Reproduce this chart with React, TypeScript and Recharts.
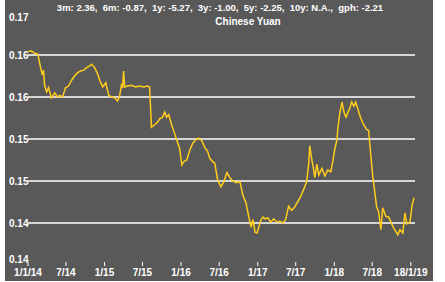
import React from 'react';
import { LineChart, Line, XAxis, YAxis, ReferenceLine } from 'recharts';

// CNY in USD
const dates = [
  '2014-01-01', '2014-01-15', '2014-02-03', '2014-02-17', '2014-03-02', '2014-03-11', '2014-03-16', '2014-03-21',
  '2014-03-31', '2014-04-09', '2014-04-23', '2014-05-08', '2014-05-22', '2014-06-01', '2014-06-15', '2014-06-29',
  '2014-07-13', '2014-07-28', '2014-08-11', '2014-08-26', '2014-09-09', '2014-09-24', '2014-10-08', '2014-10-22',
  '2014-11-01', '2014-11-15', '2014-11-30', '2014-12-09', '2014-12-23', '2015-01-07', '2015-01-21', '2015-02-05',
  '2015-02-19', '2015-03-04', '2015-03-13', '2015-03-23', '2015-03-28', '2015-04-02', '2015-04-07', '2015-04-21',
  '2015-05-10', '2015-05-29', '2015-06-17', '2015-07-06', '2015-07-25', '2015-08-04', '2015-08-09', '2015-08-13',
  '2015-08-28', '2015-09-11', '2015-09-21', '2015-10-05', '2015-10-15', '2015-10-24', '2015-11-03', '2015-11-17',
  '2015-12-01', '2015-12-11', '2015-12-25', '2016-01-05', '2016-01-14', '2016-01-28', '2016-02-12', '2016-02-26',
  '2016-03-11', '2016-03-25', '2016-04-09', '2016-04-23', '2016-05-07', '2016-05-17', '2016-06-01', '2016-06-10',
  '2016-06-24', '2016-07-09', '2016-07-23', '2016-08-07', '2016-08-21', '2016-08-31', '2016-09-19', '2016-10-08',
  '2016-10-22', '2016-11-06', '2016-11-20', '2016-11-30', '2016-12-09', '2016-12-19', '2016-12-28', '2017-01-07',
  '2017-01-17', '2017-01-26', '2017-02-05', '2017-02-19', '2017-03-04', '2017-03-18', '2017-04-02', '2017-04-16',
  '2017-04-30', '2017-05-14', '2017-05-28', '2017-06-12', '2017-06-26', '2017-07-10', '2017-07-24', '2017-08-08',
  '2017-08-22', '2017-09-01', '2017-09-06', '2017-09-16', '2017-09-25', '2017-09-30', '2017-10-10', '2017-10-19',
  '2017-11-03', '2017-11-17', '2017-12-01', '2017-12-15', '2017-12-25', '2018-01-04', '2018-01-14', '2018-01-18',
  '2018-01-28', '2018-02-07', '2018-02-16', '2018-02-26', '2018-03-06', '2018-03-16', '2018-03-25', '2018-04-04',
  '2018-04-13', '2018-04-23', '2018-05-07', '2018-05-21', '2018-06-05', '2018-06-14', '2018-06-24', '2018-07-03',
  '2018-07-13', '2018-07-22', '2018-08-01', '2018-08-11', '2018-08-20', '2018-09-04', '2018-09-18', '2018-10-02',
  '2018-10-16', '2018-10-31', '2018-11-10', '2018-11-24', '2018-12-04', '2018-12-13', '2018-12-28', '2019-01-07',
  '2019-01-16',
];

const yuan = [
  0.1654, 0.1655, 0.1652, 0.1651, 0.1635, 0.1626, 0.1632, 0.1614,
  0.1606, 0.1611, 0.1599, 0.1605, 0.1600, 0.1602, 0.1600, 0.1611,
  0.1613, 0.1620, 0.1625, 0.1629, 0.1631, 0.1632, 0.1635, 0.1637,
  0.1639, 0.1635, 0.1627, 0.1620, 0.1612, 0.1617, 0.1602, 0.1600,
  0.1599, 0.1595, 0.1600, 0.1614, 0.1611, 0.1631, 0.1612, 0.1613,
  0.1614, 0.1612, 0.1613, 0.1612, 0.1613, 0.1612, 0.1585, 0.1564,
  0.1567, 0.1570, 0.1574, 0.1576, 0.1582, 0.1576, 0.1579, 0.1567,
  0.1557, 0.1549, 0.1539, 0.1519, 0.1523, 0.1525, 0.1537, 0.1545,
  0.1549, 0.1551, 0.1548, 0.1540, 0.1535, 0.1527, 0.1523, 0.1521,
  0.1501, 0.1493, 0.1499, 0.1510, 0.1504, 0.1501, 0.1498, 0.1499,
  0.1483, 0.1474, 0.1456, 0.1445, 0.1454, 0.1439, 0.1438, 0.1446,
  0.1454, 0.1457, 0.1455, 0.1456, 0.1451, 0.1455, 0.1451, 0.1452,
  0.1450, 0.1454, 0.1470, 0.1465, 0.1469, 0.1475, 0.1481, 0.1490,
  0.1499, 0.1521, 0.1542, 0.1525, 0.1513, 0.1504, 0.1520, 0.1507,
  0.1515, 0.1506, 0.1513, 0.1511, 0.1523, 0.1539, 0.1549, 0.1563,
  0.1582, 0.1594, 0.1582, 0.1576, 0.1581, 0.1587, 0.1594, 0.1589,
  0.1594, 0.1586, 0.1575, 0.1567, 0.1561, 0.1560, 0.1531, 0.1507,
  0.1487, 0.1469, 0.1463, 0.1442, 0.1468, 0.1458, 0.1457, 0.1449,
  0.1442, 0.1436, 0.1442, 0.1438, 0.1462, 0.1449, 0.1451, 0.1471,
  0.1480,
];

const xTickDates = [
  '2014-01-01', '2014-07-01', '2015-01-01', '2015-07-01', '2016-01-01', '2016-07-01',
  '2017-01-01', '2017-07-01', '2018-01-01', '2018-07-01', '2019-01-01',
];
const xTickLabels = ['1/1/14', '7/14', '1/15', '7/15', '1/16', '7/16', '1/17', '7/17', '1/18', '7/18', '18/1/19'];

const yTicks = [0.14, 0.145, 0.15, 0.155, 0.16, 0.165, 0.17];
const yTickLabels = ['0.14', '0.14', '0.15', '0.15', '0.16', '0.16', '0.17'];
const gridValues = [0.145, 0.15, 0.155, 0.16, 0.165];

const headline = '3m: 2.36,  6m: -0.87,  1y: -5.27,  3y: -1.00,  5y: -2.25,  10y: N.A.,  gph: -2.21';
const seriesName = 'Chinese Yuan';

const toTime = (s: string) => new Date(s + 'T00:00:00Z').getTime();

const data = dates.map((d, i) => ({ t: toTime(d), v: yuan[i] }));
const xTicks = xTickDates.map(toTime);

const font = '"Liberation Sans", Arial, sans-serif';

const YTick = (props: any) => {
  const { y, payload, index } = props;
  const idx = yTicks.indexOf(payload.value);
  let dy = 4;
  if (index === yTicks.length - 1) dy = 8;
  if (index === 0) dy = -2;
  return (
    <text x={9} y={y + dy} fill="#fff" fontSize={10} fontWeight="bold" fontFamily={font} textAnchor="start">
      {yTickLabels[idx]}
    </text>
  );
};

const XTick = (props: any) => {
  const { x, y, payload } = props;
  const idx = xTicks.indexOf(payload.value);
  return (
    <g>
      <line x1={x} x2={x} y1={y - 3} y2={y + 1} stroke="#fff" strokeWidth={1} />
      <text x={x} y={y + 11} fill="#fff" fontSize={10} fontWeight="bold" fontFamily={font} textAnchor="middle">
        {xTickLabels[idx]}
      </text>
    </g>
  );
};

export default function App() {
  return (
    <div style={{ position: 'relative', width: 445, height: 282, background: '#fff', fontFamily: font }}>
      <style>{'body{margin:0}'}</style>
      <div style={{ position: 'absolute', left: 5, top: 0, width: 428, height: 281, background: '#595959' }} />
      <div style={{ position: 'absolute', left: 0, top: 0 }}>
        <LineChart width={445} height={282} data={data} margin={{ top: 13, right: 30, bottom: 0, left: 8 }}>
          <XAxis
            dataKey="t"
            type="number"
            scale="time"
            domain={[toTime('2014-01-01'), toTime('2019-01-21')]}
            ticks={xTicks}
            tick={<XTick />}
            axisLine={false}
            tickLine={false}
            tickSize={0}
            tickMargin={0}
            height={17}
            interval={0}
          />
          <YAxis
            type="number"
            domain={[0.14, 0.17]}
            ticks={yTicks}
            tick={<YTick />}
            axisLine={false}
            tickLine={false}
            width={20}
            interval={0}
          />
          {gridValues.map((g) => (
            <ReferenceLine key={g} y={g} stroke="#fff" strokeWidth={1.5} ifOverflow="extendDomain" />
          ))}
          <Line
            type="linear"
            dataKey="v"
            stroke="#FFCC1A"
            strokeWidth={1.5}
            dot={false}
            isAnimationActive={false}
          />
        </LineChart>
      </div>
      <div style={{ position: 'absolute', left: 0, width: 440, top: 2, textAlign: 'center', color: '#fff', fontSize: 9.5, fontWeight: 'bold', whiteSpace: 'pre' }}>
        {headline}
      </div>
      <div style={{ position: 'absolute', left: 248 - 60, width: 120, top: 16, textAlign: 'center', color: '#fff', fontSize: 10, fontWeight: 'bold' }}>
        {seriesName}
      </div>
    </div>
  );
}
